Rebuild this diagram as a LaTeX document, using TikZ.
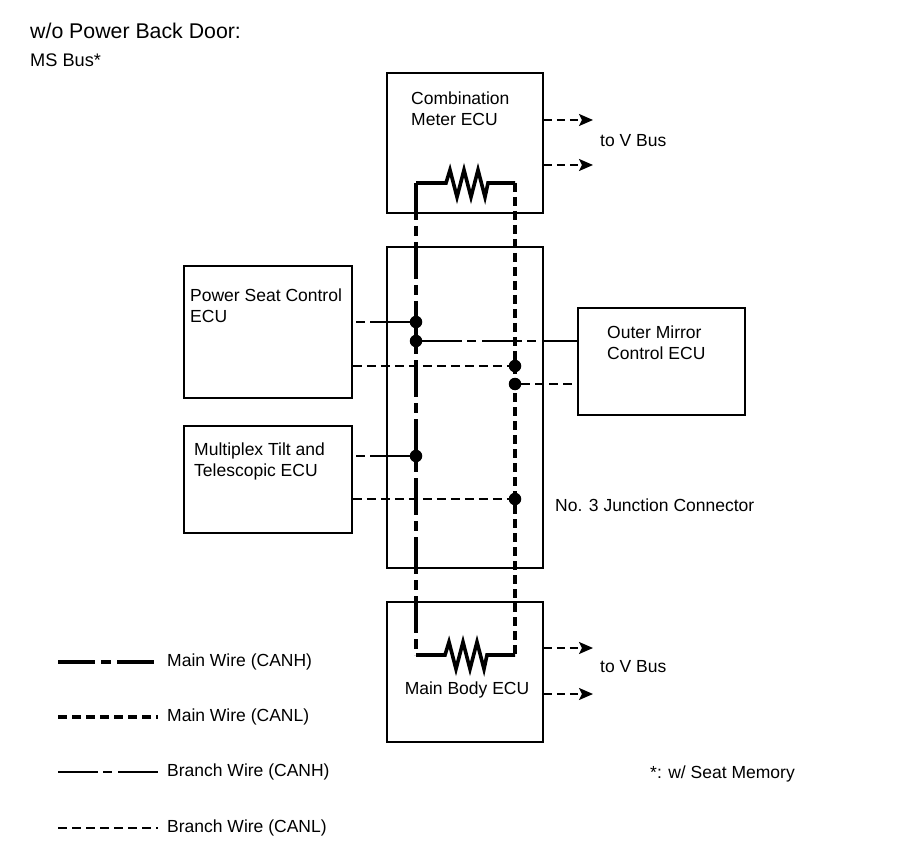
\documentclass[tikz,border=0pt]{standalone}
\usepackage{fontspec}
\setmainfont{Liberation Sans}
\usetikzlibrary{arrows.meta,positioning}

\begin{document}
\begin{tikzpicture}[x=1pt,y=-1pt,
	ecu/.style={draw, line width=1.9pt, inner sep=0pt},
	txt/.style={inner sep=0pt, align=left, font=\fontsize{17.5}{21}\selectfont},
	mainh/.style={line width=3.6pt, dash pattern=on 37pt off 6pt on 10pt off 6pt},
	mainl/.style={line width=3.6pt, dash pattern=on 9pt off 5pt},
	branchh/.style={line width=2pt, dash pattern=on 40pt off 5pt on 9pt off 6pt},
	branchl/.style={line width=2pt, dash pattern=on 9pt off 5pt},
	resistor/.style={line width=3.6pt, line join=miter},
	dot/.style={circle, fill, inner sep=0pt, minimum size=12.5pt},
	vbus/.style={line width=2pt, dash pattern=on 8pt off 5pt, -{Stealth[length=14pt,width=12pt,inset=3pt]}}]
	\useasboundingbox (0,0) rectangle (907,866);
	% ECUs
	\node[ecu, minimum width=156pt, minimum height=140pt] (cm) at (465,143) {};
	\node[ecu, minimum width=156pt, minimum height=321pt] (jc) at (465,407.5) {};
	\node[ecu, minimum width=156pt, minimum height=140pt] (mb) at (465,672) {};
	\node[ecu, minimum width=168pt, minimum height=132pt] (ps) at (268,332) {};
	\node[ecu, minimum width=168pt, minimum height=107pt] (mt) at (268,479.5) {};
	\node[ecu, minimum width=167pt, minimum height=107pt] (om) at (661.5,361.5) {};
	\node[txt, anchor=north west] (cmtxt) at (411,92) {Combination\\Meter ECU};
	\node[txt, anchor=north west] (pstxt) at (190,289) {Power Seat Control\\ECU};
	\node[txt, anchor=north west] (mttxt) at (194,443) {Multiplex Tilt and\\Telescopic ECU};
	\node[txt, anchor=north west] (omtxt) at (607,326) {Outer Mirror\\Control ECU};
	\node[txt, anchor=base] (mbtxt) at (467,694) {Main Body ECU};
	\node[txt, anchor=base west] (jctxt) at (555,511) {No. 3 Junction Connector};
	\node[txt, anchor=base west, font=\fontsize{21.3}{25}\selectfont] (title) at (30,39) {w/o Power Back Door:};
	\node[txt, anchor=base west, font=\fontsize{18.2}{22}\selectfont] (bus) at (30,67) {MS Bus*};
	\node[txt, anchor=base west] (note) at (650,778) {*: w/ Seat Memory};
	% terminating resistors
	\coordinate (rt1) at (416,183);
	\coordinate (rt2) at (515,183);
	\coordinate (rb1) at (416,655);
	\coordinate (rb2) at (515,655);
	\draw[resistor] (rt1) -- (446,183) -- (450,170) -- (457,197) -- (464,170) -- (471,197) -- (478,170) -- (485,197) -- (488,183) -- (rt2);
	\draw[resistor] (rb1) -- (445,655) -- (449,642) -- (456,669) -- (463,642) -- (470,669) -- (477,642) -- (484,669) -- (487,655) -- (rb2);
	\draw[mainh] (rt1) -- (rb1);
	\draw[mainl] (rt2) -- (rb2);
	% junctions
	\node[dot] (h1) at (416,322) {};
	\node[dot] (h2) at (416,341) {};
	\node[dot] (l1) at (515,366) {};
	\node[dot] (l2) at (515,384) {};
	\node[dot] (h3) at (416,456) {};
	\node[dot] (l3) at (515,499) {};
	\draw[branchh] (h1) -- (ps.east |- h1);
	\draw[branchl] (ps.east |- l1) -- (l1);
	\draw[branchh] (h2) -- (om.west |- h2);
	\draw[branchl] (l2) -- (om.west |- l2);
	\draw[branchh] (h3) -- (mt.east |- h3);
	\draw[branchl] (mt.east |- l3) -- (l3);
	% to V Bus
	\coordinate (vt1) at (593,120);
	\coordinate (vt2) at (593,165);
	\coordinate (vb1) at (593,648);
	\coordinate (vb2) at (593,694);
	\draw[vbus] (cm.east |- vt1) -- (vt1);
	\draw[vbus] (cm.east |- vt2) -- (vt2);
	\draw[vbus] (mb.east |- vb1) -- (vb1);
	\draw[vbus] (mb.east |- vb2) -- (vb2);
	\node[txt, anchor=west] (tovt) at (600,141) {to V Bus};
	\node[txt, anchor=west] (tovb) at (600,667) {to V Bus};
	% legend
	\coordinate (ka) at (58,662);  \coordinate (kb) at (158,662);
	\coordinate (kc) at (58,717);  \coordinate (kd) at (158,717);
	\coordinate (ke) at (58,772);  \coordinate (kf) at (158,772);
	\coordinate (kg) at (58,828);  \coordinate (kh) at (158,828);
	\draw[mainh] (ka) -- (kb);
	\draw[mainl] (kc) -- (kd);
	\draw[branchh] (ke) -- (kf);
	\draw[branchl] (kg) -- (kh);
	\node[txt, anchor=west, right=9pt of kb] (k1) {Main Wire (CANH)};
	\node[txt, anchor=west, right=9pt of kd] (k2) {Main Wire (CANL)};
	\node[txt, anchor=west, right=9pt of kf] (k3) {Branch Wire (CANH)};
	\node[txt, anchor=west, right=9pt of kh] (k4) {Branch Wire (CANL)};
\end{tikzpicture}
\end{document}
